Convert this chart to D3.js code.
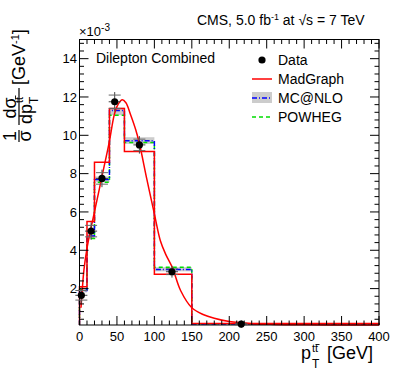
<!DOCTYPE html>
<html><head><meta charset="utf-8">
<script src="https://cdn.jsdelivr.net/npm/d3@7"></script>
<style>
body{margin:0;background:#fff;}
svg{display:block;font-family:"Liberation Sans",Arial,Helvetica,sans-serif;}
</style></head>
<body><svg id="c" width="399" height="383"></svg>
<script>
// ---- data ----
const binEdges = [0, 10, 20, 40, 60, 100, 150, 400];
const madgraph = [2.1, 5.5, 8.6, 11.4, 9.15, 2.75, 0.18];
const mcnlo = [1.9, 4.75, 7.7, 11.3, 9.72, 3.0, 0.15];
const mcnloLow = [1.8, 4.6, 7.55, 11.05, 9.55, 2.9, 0.12];
const mcnloHigh = [2.0, 4.9, 7.85, 11.45, 9.9, 3.12, 0.18];
const powheg = [1.95, 4.62, 7.55, 11.05, 9.62, 3.12, 0.16];
const dataX = [2.5, 15.5, 30, 47, 80, 123.5, 216];
const dataY = [1.65, 5.0, 7.75, 11.75, 9.5, 2.88, 0.15];
const dataErr = [0.25, 0.3, 0.3, 0.35, 0.3, 0.15, 0.04];
const curveX = [2, 4, 6, 10, 15, 20, 30, 40, 46, 50, 57, 62, 68, 75, 80, 90, 100, 108, 115, 124, 135, 150, 165, 180, 200, 230, 260, 300, 350, 400];
const curveY = [1.0, 2.1, 3.0, 4.1, 5.1, 6.0, 7.85, 9.7, 11.0, 11.5, 11.85, 11.7, 11.1, 10.3, 9.57, 7.7, 5.9, 4.5, 3.8, 3.1, 1.9, 1.0, 0.65, 0.45, 0.28, 0.17, 0.13, 0.11, 0.1, 0.1];
const xTicks = [0, 50, 100, 150, 200, 250, 300, 350, 400];
const yTicks = [2, 4, 6, 8, 10, 12, 14];

const svg = d3.select("#c");
const L = 79.5, R = 379, T = 39.5, B = 325;
const x = d3.scaleLinear().domain([0, 400]).range([L, R]);
const y = d3.scaleLinear().domain([0.1, 15]).range([B, T]);

function stepPath(vals) {
  const pts = [];
  pts.push([x(binEdges[0]), y.range()[0]]);
  vals.forEach((v, i) => {
    pts.push([x(binEdges[i]), y(v)]);
    pts.push([x(binEdges[i + 1]), y(v)]);
  });
  pts.push([x(binEdges[binEdges.length - 1]), y.range()[0]]);
  return d3.line()(pts);
}

// MC@NLO band
svg.append("g").selectAll("rect").data(mcnloLow).join("rect")
  .attr("x", (d, i) => x(binEdges[i]))
  .attr("width", (d, i) => x(binEdges[i + 1]) - x(binEdges[i]))
  .attr("y", (d, i) => y(mcnloHigh[i]))
  .attr("height", (d, i) => y(d) - y(mcnloHigh[i]))
  .attr("fill", "#cccccc");

svg.append("path").attr("d", stepPath(powheg)).attr("fill", "none")
  .attr("stroke", "#00dd00").attr("stroke-width", 1.5).attr("stroke-dasharray", "4,3");
svg.append("path").attr("d", stepPath(mcnlo)).attr("fill", "none")
  .attr("stroke", "#0000ff").attr("stroke-width", 1.5).attr("stroke-dasharray", "5,2,1,2");
svg.append("path").attr("d", stepPath(madgraph)).attr("fill", "none")
  .attr("stroke", "#ff0000").attr("stroke-width", 1.5);

// curve
const cpts = curveX.map((v, i) => [v, curveY[i]]);
svg.append("path").attr("d", d3.line().x(d => x(d[0])).y(d => y(d[1])).curve(d3.curveCatmullRom)(cpts))
  .attr("fill", "none").attr("stroke", "#ff0000").attr("stroke-width", 1.5);

// frame & axes
const ax = svg.append("g").attr("stroke", "#000").attr("stroke-width", 1);
ax.append("rect").attr("x", L).attr("y", T).attr("width", R - L).attr("height", B - T).attr("fill", "none");

const xMinor = d3.range(0, 401, 10);
xMinor.forEach(v => {
  const major = v % 50 === 0;
  const len = major ? 9 : 4.5;
  ax.append("line").attr("x1", x(v)).attr("x2", x(v)).attr("y1", B).attr("y2", B - len);
  ax.append("line").attr("x1", x(v)).attr("x2", x(v)).attr("y1", T).attr("y2", T + len);
});
const yMinor = d3.range(0.4, 15.0, 0.4);
yMinor.forEach(v => {
  const major = Math.abs(v / 2 - Math.round(v / 2)) < 1e-6;
  const len = major ? 9 : 4.5;
  ax.append("line").attr("y1", y(v)).attr("y2", y(v)).attr("x1", L).attr("x2", L + len);
  ax.append("line").attr("y1", y(v)).attr("y2", y(v)).attr("x1", R).attr("x2", R - len);
});

const lab = svg.append("g").attr("font-size", 13).attr("fill", "#000");
xTicks.forEach(v => lab.append("text").attr("x", x(v)).attr("y", 341).attr("text-anchor", "middle").text(v));
yTicks.forEach(v => lab.append("text").attr("x", 77).attr("y", y(v) + 4.6).attr("text-anchor", "end").text(v));

// x10^-3
const ex = svg.append("text").attr("x", 79).attr("y", 36).attr("font-size", 13);
ex.append("tspan").text("×10");
ex.append("tspan").attr("dy", -5).attr("font-size", 10).text("-3");

// data points
const dg = svg.append("g");
dataX.forEach((xv, i) => {
  const cx = x(xv), cy = y(dataY[i]), e1 = y(dataY[i] + dataErr[i]), e2 = y(dataY[i] - dataErr[i]);
  dg.append("line").attr("x1", cx).attr("x2", cx).attr("y1", e1 - 3).attr("y2", e2 + 3).attr("stroke", "#444");
  dg.append("line").attr("x1", cx - 6).attr("x2", cx + 6).attr("y1", e1).attr("y2", e1).attr("stroke", "#666");
  dg.append("line").attr("x1", cx - 6).attr("x2", cx + 6).attr("y1", e2).attr("y2", e2).attr("stroke", "#666");
  dg.append("line").attr("x1", cx - 6).attr("x2", cx + 6).attr("y1", cy).attr("y2", cy).attr("stroke", "#444");
  dg.append("circle").attr("cx", cx).attr("cy", cy).attr("r", 3.6).attr("fill", "#000");
});

// texts
svg.append("text").attr("x", 96).attr("y", 63).attr("font-size", 14).text("Dilepton Combined");
const cms = svg.append("text").attr("x", 197).attr("y", 25).attr("font-size", 14);
cms.append("tspan").text("CMS, 5.0 fb");
cms.append("tspan").attr("dy", -5).attr("font-size", 9).text("-1");
cms.append("tspan").attr("dy", 5).text(" at ");
cms.append("tspan").text("√s = 7 TeV");

// legend
const lg = svg.append("g").attr("font-size", 14);
const lx1 = 252, lx2 = 272, tx = 278;
lg.append("circle").attr("cx", 262).attr("cy", 60).attr("r", 3.6).attr("fill", "#000");
lg.append("text").attr("x", tx).attr("y", 65).text("Data");
lg.append("line").attr("x1", lx1).attr("x2", lx2).attr("y1", 79).attr("y2", 79).attr("stroke", "#ff0000").attr("stroke-width", 1.5);
lg.append("text").attr("x", tx).attr("y", 84).text("MadGraph");
lg.append("rect").attr("x", lx1).attr("y", 92).attr("width", lx2 - lx1).attr("height", 11).attr("fill", "#cccccc");
lg.append("line").attr("x1", lx1).attr("x2", lx2).attr("y1", 98).attr("y2", 98).attr("stroke", "#0000ff").attr("stroke-width", 1.5).attr("stroke-dasharray", "5,2,1,2");
lg.append("text").attr("x", tx).attr("y", 103).text("MC@NLO");
lg.append("line").attr("x1", lx1).attr("x2", lx2).attr("y1", 117).attr("y2", 117).attr("stroke", "#00dd00").attr("stroke-width", 1.5).attr("stroke-dasharray", "4,3");
lg.append("text").attr("x", tx).attr("y", 122).text("POWHEG");

// x title
const xt = svg.append("g").attr("font-size", 18);
xt.append("text").attr("x", 301).attr("y", 359).text("p");
xt.append("text").attr("x", 312).attr("y", 368).attr("font-size", 12).text("T");
xt.append("text").attr("x", 312).attr("y", 352).attr("font-size", 11).text("tt");
xt.append("line").attr("x1", 315.5).attr("x2", 319.5).attr("y1", 344.5).attr("y2", 344.5).attr("stroke", "#000").attr("stroke-width", 0.9);
xt.append("text").attr("x", 327).attr("y", 359).text("[GeV]");

// y title (rotated)
const yt = svg.append("g").attr("transform", "translate(19,0) rotate(-90)").attr("font-size", 18);
yt.append("text").attr("x", -136).attr("y", -3).attr("text-anchor", "middle").text("1");
yt.append("line").attr("x1", -142).attr("x2", -130).attr("y1", 0).attr("y2", 0).attr("stroke", "#000").attr("stroke-width", 1.2);
yt.append("text").attr("x", -136).attr("y", 12).attr("text-anchor", "middle").text("σ");
yt.append("text").attr("x", -108).attr("y", -3).attr("text-anchor", "middle").text("dσ");
yt.append("line").attr("x1", -125).attr("x2", -88).attr("y1", 0).attr("y2", 0).attr("stroke", "#000").attr("stroke-width", 1.2);
yt.append("text").attr("x", -124).attr("y", 13).text("dp");
yt.append("text").attr("x", -104).attr("y", 19).attr("font-size", 12).text("T");
yt.append("text").attr("x", -103).attr("y", 4).attr("font-size", 11).text("tt");
yt.append("line").attr("x1", -99.5).attr("x2", -95.5).attr("y1", -3.5).attr("y2", -3.5).attr("stroke", "#000").attr("stroke-width", 0.9);
const gv = yt.append("text").attr("x", -85).attr("y", 6);
gv.append("tspan").text("[GeV");
gv.append("tspan").attr("dy", -6).attr("font-size", 11).text("-1");
gv.append("tspan").attr("dy", 6).text("]");
</script></body></html>
